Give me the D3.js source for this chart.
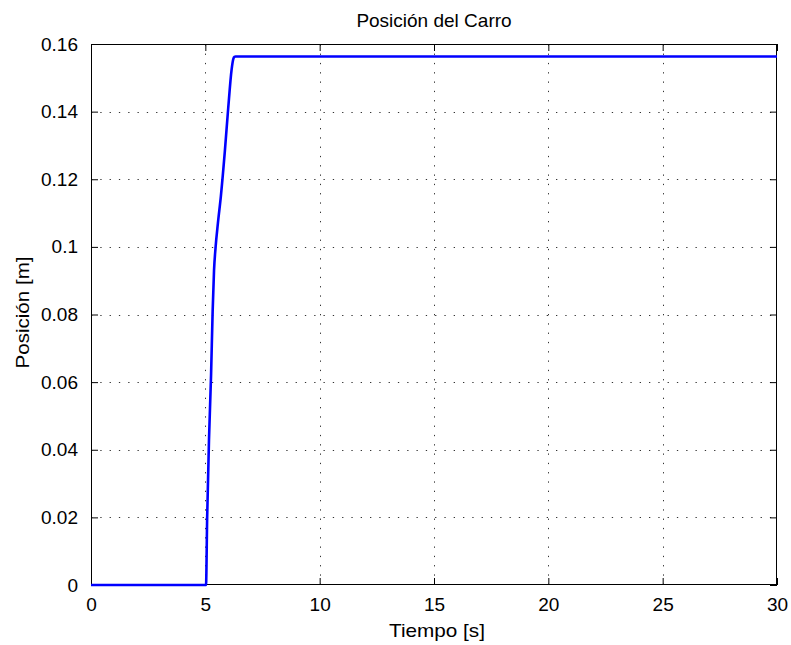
<!DOCTYPE html>
<html>
<head>
<meta charset="utf-8">
<script src="https://cdn.jsdelivr.net/npm/d3@7"></script>
<style>
  html, body { margin: 0; padding: 0; background: #fff; }
  svg { display: block; font-family: "Liberation Sans", Arial, Helvetica, sans-serif; }
</style>
</head>
<body>
<svg id="chart" width="791" height="645"></svg>
<script>
// Data
const timeValues = [0, 5.0, 5.03, 5.08, 5.16, 5.25, 5.32, 5.38, 5.45, 5.55, 5.68, 5.85, 6.0, 6.15, 6.22, 6.27, 6.32, 30];
const positionValues = [0, 0, 0, 0.02, 0.043, 0.062, 0.081, 0.093, 0.1, 0.107, 0.115, 0.128, 0.141, 0.1525, 0.1555, 0.1562, 0.1563, 0.1563];
const xTicks = [0, 5, 10, 15, 20, 25, 30];
const yTicks = [0, 0.02, 0.04, 0.06, 0.08, 0.1, 0.12, 0.14, 0.16];
const titleText = "Posición del Carro";
const xLabelText = "Tiempo [s]";
const yLabelText = "Posición [m]";

const svg = d3.select("#chart");
const margin = { left: 91, top: 44, right: 791 - 777, bottom: 645 - 585 };
const W = 791, H = 645;
const x0 = margin.left, x1 = W - margin.right, y0 = H - margin.bottom, y1 = margin.top;

const x = d3.scaleLinear().domain([0, 30]).range([x0, x1]);
const y = d3.scaleLinear().domain([0, 0.16]).range([y0, y1]);

// Grid
const grid = svg.append("g").attr("stroke", "#333").attr("stroke-width", 1)
  .attr("stroke-dasharray", "1.3 8");
grid.selectAll("line.vx").data(xTicks.filter(d => d > 0 && d < 30)).join("line")
  .attr("x1", d => Math.round(x(d)) + 0.5).attr("x2", d => Math.round(x(d)) + 0.5)
  .attr("y1", y0).attr("y2", y1);
grid.selectAll("line.hy").data(yTicks.filter(d => d > 0 && d < 0.16)).join("line")
  .attr("y1", d => Math.round(y(d)) + 0.5).attr("y2", d => Math.round(y(d)) + 0.5)
  .attr("x1", x0).attr("x2", x1);

// Axes (ticks inward on all four sides)
const tickLen = 7;
const fs = 19;
const xAxisB = d3.axisBottom(x).tickValues(xTicks).tickSizeInner(-tickLen).tickSizeOuter(0).tickPadding(tickLen + 9).tickFormat(d3.format("d"));
const xAxisT = d3.axisTop(x).tickValues(xTicks).tickSizeInner(-tickLen).tickSizeOuter(0).tickFormat("");
const yAxisL = d3.axisLeft(y).tickValues(yTicks).tickSizeInner(-tickLen).tickSizeOuter(0).tickPadding(tickLen + 6).tickFormat(d => d === 0 ? "0" : d3.format("")(+d.toFixed(2)));
const yAxisR = d3.axisRight(y).tickValues(yTicks).tickSizeInner(-tickLen).tickSizeOuter(0).tickFormat("");

function styleAxis(g) {
  g.select(".domain").remove();
  g.selectAll(".tick line").attr("stroke", "#000");
  g.selectAll(".tick text").attr("fill", "#000").attr("font-size", fs);
}
svg.append("g").attr("transform", `translate(0,${y0})`).call(xAxisB).call(styleAxis)
  .selectAll(".tick text").attr("dy", "0.55em");
svg.append("g").attr("transform", `translate(0,${y1})`).call(xAxisT).call(styleAxis);
svg.append("g").attr("transform", `translate(${x0},0)`).call(yAxisL).call(styleAxis)
  .selectAll(".tick text").attr("dx", "0");
svg.append("g").attr("transform", `translate(${x1},0)`).call(yAxisR).call(styleAxis);

// Box
svg.append("rect").attr("x", x0 + 0.5).attr("y", y1 + 0.5)
  .attr("width", x1 - x0 - 1).attr("height", y0 - y1 - 1)
  .attr("fill", "none").attr("stroke", "#000").attr("stroke-width", 1);

// Line
const data = timeValues.map((t, i) => [t, positionValues[i]]);
svg.append("path").datum(data)
  .attr("fill", "none").attr("stroke", "#0000ff").attr("stroke-width", 2.6)
  .attr("stroke-linejoin", "round")
  .attr("d", d3.line().x(d => x(d[0])).y(d => y(d[1])).curve(d3.curveMonotoneX));

// Title and labels
svg.append("text").attr("x", (x0 + x1) / 2).attr("y", 27).attr("text-anchor", "middle")
  .attr("font-size", fs).attr("fill", "#000").text(titleText);
svg.append("text").attr("x", (x0 + x1) / 2 + 3).attr("y", 637).attr("text-anchor", "middle")
  .attr("font-size", fs).attr("textLength", 96).attr("lengthAdjust", "spacingAndGlyphs")
  .attr("fill", "#000").text(xLabelText);
svg.append("text").attr("transform", `translate(29,${(y0 + y1) / 2 - 2}) rotate(-90)`).attr("text-anchor", "middle")
  .attr("font-size", fs).attr("textLength", 112).attr("lengthAdjust", "spacingAndGlyphs")
  .attr("fill", "#000").text(yLabelText);
</script>
</body>
</html>
